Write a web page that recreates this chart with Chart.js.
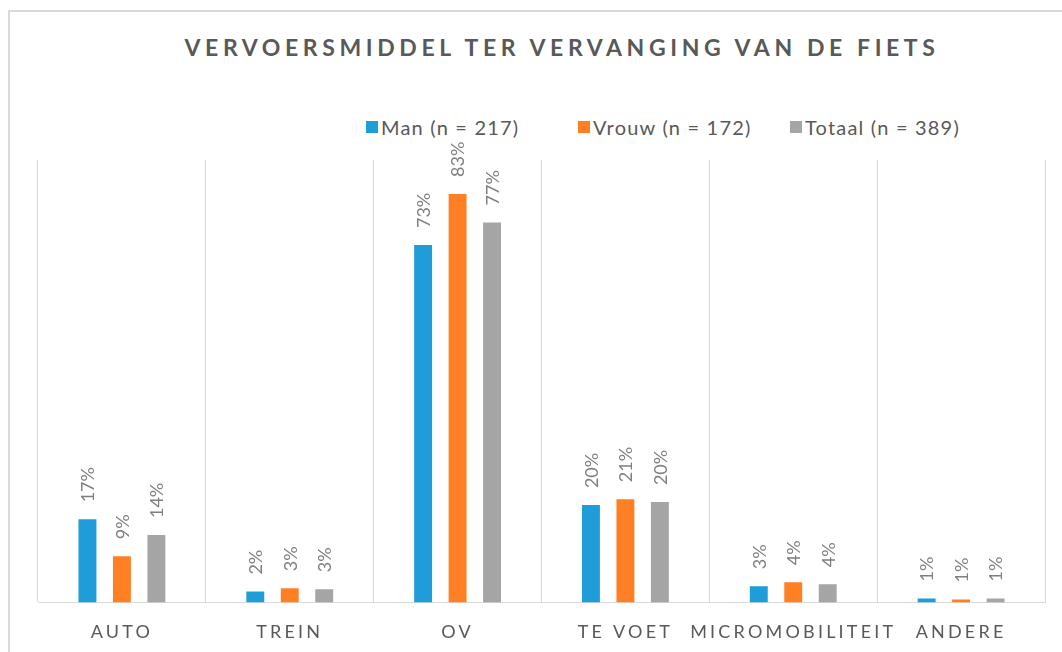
<!DOCTYPE html>
<html>
<head>
<meta charset="utf-8">
<script src="https://cdn.jsdelivr.net/npm/chart.js@4"></script>
<style>
  html, body { margin: 0; padding: 0; background: #fff; }
  #wrap { position: relative; width: 1062px; height: 652px; overflow: hidden; font-family: Lato, sans-serif; }
  #frame { position: absolute; left: 8px; top: 10px; width: 1100px; height: 700px; border-left: 2px solid #d9d9d9; border-top: 2px solid #d9d9d9; }
  #title { position: absolute; left: 0; top: 33px; width: 1124px; text-align: center; font-weight: bold; font-size: 23px; letter-spacing: 4.6px; color: #595959; white-space: nowrap; }
  #legend { position: absolute; left: 366px; top: 115px; display: flex; }
  .item { width: 212px; display: flex; align-items: center; font-size: 20px; letter-spacing: 1.2px; color: #595959; white-space: nowrap; }
  .box { width: 12px; height: 12px; margin-right: 3px; }
  #chart { position: absolute; left: 0; top: 0; }
</style>
</head>
<body>
<div id="wrap">
  <div id="frame"></div>
  <div id="title">VERVOERSMIDDEL TER VERVANGING VAN DE FIETS</div>
  <div id="legend"></div>
  <canvas id="chart" width="1062" height="672"></canvas>
</div>
<script>
const categories = ['AUTO', 'TREIN', 'OV', 'TE VOET', 'MICROMOBILITEIT', 'ANDERE'];
const seriesNames = ['Man (n = 217)', 'Vrouw (n = 172)', 'Totaal (n = 389)'];
const man = [16.9, 2.2, 72.7, 19.8, 3.3, 0.8];
const vrouw = [9.4, 2.9, 83.1, 21.0, 4.1, 0.6];
const totaal = [13.7, 2.7, 77.3, 20.4, 3.7, 0.8];
const colors = ['#1f9dd9', '#fe7f24', '#a5a5a5'];

// legend in html, fixed-width entries like the original
const legend = document.getElementById('legend');
seriesNames.forEach((name, i) => {
  const it = document.createElement('div');
  it.className = 'item';
  it.innerHTML = '<span class="box" style="background:' + colors[i] + '"></span>' + name;
  legend.appendChild(it);
});

// letter spacing for the axis labels
const spacing = {
  id: 'spacing',
  beforeDraw(chart) { chart.ctx.letterSpacing = '3.2px'; }
};

// rotated percentage labels above the bars
const barLabels = {
  id: 'barLabels',
  afterDatasetsDraw(chart) {
    const ctx = chart.ctx;
    ctx.save();
    ctx.letterSpacing = '0px';
    ctx.font = '18px Lato';
    ctx.fillStyle = '#7f7f7f';
    ctx.textAlign = 'left';
    ctx.textBaseline = 'middle';
    chart.data.datasets.forEach((ds, i) => {
      chart.getDatasetMeta(i).data.forEach((bar, j) => {
        ctx.save();
        ctx.translate(bar.x + 1, bar.y - 17);
        ctx.rotate(-Math.PI / 2);
        ctx.fillText(Math.round(ds.data[j]) + '%', 0, 0);
        ctx.restore();
      });
    });
    ctx.restore();
  }
};

const ctx = document.getElementById('chart').getContext('2d');
new Chart(ctx, {
  type: 'bar',
  data: {
    labels: categories,
    datasets: [man, vrouw, totaal].map((d, i) => ({
      label: seriesNames[i],
      data: d,
      backgroundColor: colors[i],
      categoryPercentage: 0.616,
      barPercentage: 0.52
    }))
  },
  options: {
    responsive: false,
    animation: false,
    layout: { padding: { left: 38, right: 17, top: 160, bottom: 10 } },
    plugins: {
      legend: { display: false },
      title: { display: false },
      tooltip: { enabled: false }
    },
    scales: {
      x: {
        grid: { color: '#d9d9d9', drawTicks: false, offset: true },
        border: { color: '#d9d9d9' },
        ticks: { color: '#595959', font: { family: 'Lato', size: 18 }, padding: 19, maxRotation: 0, autoSkip: false }
      },
      y: { display: false, min: 0, max: 90 }
    }
  },
  plugins: [spacing, barLabels]
});
</script>
</body>
</html>
